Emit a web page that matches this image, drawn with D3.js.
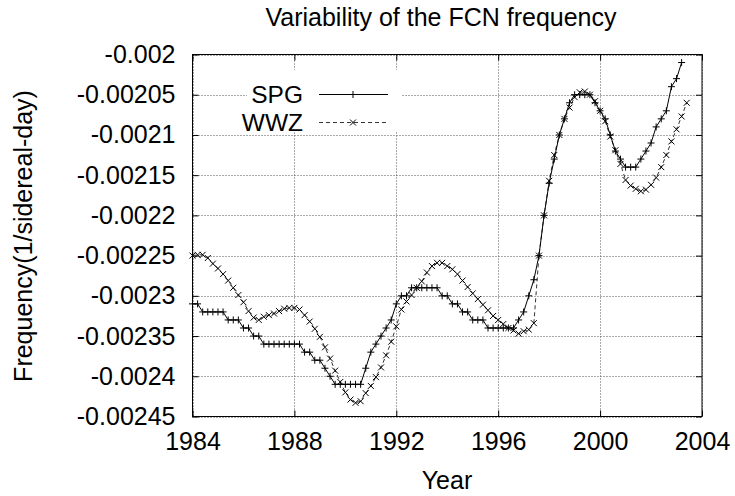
<!DOCTYPE html>
<html>
<head>
<meta charset="utf-8">
<script src="https://cdn.jsdelivr.net/npm/d3@7"></script>
<style>
  body { margin: 0; background: #fff; }
  svg { display: block; font-family: "Liberation Sans", Arial, sans-serif; }
</style>
</head>
<body>
<div id="d1"></div>
<script>
// sample epochs (years)
const years = [
  1984.0, 1984.2, 1984.4, 1984.6, 1984.8,
  1985.0, 1985.2, 1985.4, 1985.6, 1985.8,
  1986.0, 1986.2, 1986.4, 1986.6, 1986.8,
  1987.0, 1987.2, 1987.4, 1987.6, 1987.8,
  1988.0, 1988.2, 1988.4, 1988.6, 1988.8,
  1989.0, 1989.2, 1989.4, 1989.6, 1989.8,
  1990.0, 1990.2, 1990.4, 1990.6, 1990.8,
  1991.0, 1991.2, 1991.4, 1991.6, 1991.8,
  1992.0, 1992.2, 1992.4, 1992.6, 1992.8,
  1993.0, 1993.2, 1993.4, 1993.6, 1993.8,
  1994.0, 1994.2, 1994.4, 1994.6, 1994.8,
  1995.0, 1995.2, 1995.4, 1995.6, 1995.8,
  1996.0, 1996.2, 1996.4, 1996.6, 1996.8,
  1997.0, 1997.2, 1997.4, 1997.6, 1997.8,
  1998.0, 1998.2, 1998.4, 1998.6, 1998.8,
  1999.0, 1999.2, 1999.4, 1999.6, 1999.8,
  2000.0, 2000.2, 2000.4, 2000.6, 2000.8,
  2001.0, 2001.2, 2001.4, 2001.6, 2001.8,
  2002.0, 2002.2, 2002.4, 2002.6, 2002.8,
  2003.0, 2003.2, 2003.4
];

// SPG frequency (1/sidereal-day)
const spg = [
  -0.00231, -0.00231, -0.00232, -0.00232, -0.00232,
  -0.00232, -0.00232, -0.00233, -0.00233, -0.00233,
  -0.00234, -0.00234, -0.00235, -0.00235, -0.00236,
  -0.00236, -0.00236, -0.00236, -0.00236, -0.00236,
  -0.00236, -0.00236, -0.00237, -0.00237, -0.00238,
  -0.00238, -0.00239, -0.00240, -0.00241, -0.00241,
  -0.00241, -0.00241, -0.00241, -0.00241, -0.00239,
  -0.00237, -0.00236, -0.00235, -0.00234, -0.00233,
  -0.00231, -0.00230, -0.00230, -0.00229, -0.00229,
  -0.00229, -0.00229, -0.00229, -0.00229, -0.00230,
  -0.00230, -0.00231, -0.00231, -0.00232, -0.00232,
  -0.00233, -0.00233, -0.00233, -0.00234, -0.00234,
  -0.00234, -0.00234, -0.00234, -0.00234, -0.00233,
  -0.00232, -0.00230, -0.00228, -0.00225, -0.00220,
  -0.00216, -0.00213, -0.00210, -0.00208, -0.00206,
  -0.00205, -0.00205, -0.00205, -0.00205, -0.00206,
  -0.00207, -0.00208, -0.00210, -0.00212, -0.00213,
  -0.00214, -0.00214, -0.00214, -0.00213, -0.00212,
  -0.00211, -0.00209, -0.00208, -0.00207, -0.00204,
  -0.00203, -0.00201
];

// WWZ frequency (1/sidereal-day)
const wwz = [
  -0.002250, -0.002249, -0.002249, -0.002253, -0.002260,
  -0.002266, -0.002273, -0.002281, -0.002290, -0.002299,
  -0.002308, -0.002319, -0.002327, -0.002330, -0.002326,
  -0.002324, -0.002322, -0.002319, -0.002316, -0.002315,
  -0.002315, -0.002317, -0.002324, -0.002332, -0.002341,
  -0.002351, -0.002364, -0.002378, -0.002393, -0.002407,
  -0.002420, -0.002429, -0.002433, -0.002431, -0.002421,
  -0.002412, -0.002401, -0.002389, -0.002374, -0.002357,
  -0.002338, -0.002317, -0.002307, -0.002299, -0.002290,
  -0.002282, -0.002271, -0.002263, -0.002259, -0.002259,
  -0.002263, -0.002267, -0.002273, -0.002281, -0.002289,
  -0.002297, -0.002304, -0.002311, -0.002318, -0.002325,
  -0.002330, -0.002335, -0.002340, -0.002343, -0.002347,
  -0.002344, -0.002342, -0.002334, -0.002250, -0.002200,
  -0.002157, -0.002125, -0.002100, -0.002080, -0.002066,
  -0.002053, -0.002047, -0.002046, -0.002050, -0.002058,
  -0.002070, -0.002083, -0.002102, -0.002119, -0.002136,
  -0.002156, -0.002163, -0.002167, -0.002170, -0.002168,
  -0.002162, -0.002153, -0.002140, -0.002125, -0.002108,
  -0.002093, -0.002077, -0.002060
];

const xTicks = [1984, 1988, 1992, 1996, 2000, 2004];
const xTickLabels = ["1984", "1988", "1992", "1996", "2000", "2004"];
const yTicks = [-0.00245, -0.0024, -0.00235, -0.0023, -0.00225, -0.0022, -0.00215, -0.0021, -0.00205, -0.002];
const yTickLabels = ["-0.00245", "-0.0024", "-0.00235", "-0.0023", "-0.00225", "-0.0022", "-0.00215", "-0.0021", "-0.00205", "-0.002"];
const seriesNames = ["SPG", "WWZ"];

const width = 735, height = 496;
const margin = { top: 54.5, right: 33, bottom: 79.5, left: 192.5 };
const fontSize = 25;

const x = d3.scaleLinear()
    .domain([1984, 2004])
    .range([margin.left, width - margin.right]);

const y = d3.scaleLinear()
    .domain([-0.00245, -0.002])
    .range([height - margin.bottom, margin.top]);

const line = d3.line()
    .x(d => x(d.x))
    .y(d => y(d.y));

const spgData = spg.map((v, i) => ({ x: years[i], y: v }));
const wwzData = wwz.map((v, i) => ({ x: years[i], y: v }));

const plus = "M-3.5,0H3.5M0,-3.5V3.5";
const cross = "M-3,-3L3,3M-3,3L3,-3";

const svg = d3.select("#d1")
    .append("svg")
    .attr("width", width)
    .attr("height", height)
    .attr("viewBox", [0, 0, width, height]);

// dotted grid
const grid = svg.append("g")
    .attr("stroke", "#555")
    .attr("stroke-width", 1)
    .attr("stroke-dasharray", "1,2");

grid.selectAll("line.gy")
    .data(yTicks)
    .join("line")
    .attr("class", "gy")
    .attr("x1", margin.left)
    .attr("x2", width - margin.right)
    .attr("y1", d => Math.round(y(d)) + 0.5)
    .attr("y2", d => Math.round(y(d)) + 0.5);

grid.selectAll("line.gx")
    .data(xTicks)
    .join("line")
    .attr("class", "gx")
    .attr("x1", d => Math.round(x(d)) + 0.5)
    .attr("x2", d => Math.round(x(d)) + 0.5)
    .attr("y1", margin.top)
    .attr("y2", height - margin.bottom);

// gnuplot-like look: ticks inside, big labels
const restyle = g => g
    .attr("font-size", fontSize)
    .attr("font-family", null)
    .call(g => g.select(".domain").remove())
    .call(g => g.selectAll("text").attr("fill", "#000"));

const yAxis = g => g
    .attr("transform", `translate(${margin.left},0)`)
    .call(d3.axisLeft(y).tickValues(yTicks)
        .tickFormat((d, i) => yTickLabels[i])
        .tickSizeInner(-6).tickSizeOuter(0).tickPadding(17))
    .call(restyle);

const yAxisRight = g => g
    .attr("transform", `translate(${width - margin.right},0)`)
    .call(d3.axisRight(y).tickValues(yTicks).tickFormat("")
        .tickSizeInner(-6).tickSizeOuter(0))
    .call(restyle);

const xAxis = g => g
    .attr("transform", `translate(0,${height - margin.bottom})`)
    .call(d3.axisBottom(x).tickValues(xTicks)
        .tickFormat((d, i) => xTickLabels[i])
        .tickSizeInner(-6).tickSizeOuter(0).tickPadding(16))
    .call(restyle);

const xAxisTop = g => g
    .attr("transform", `translate(0,${margin.top})`)
    .call(d3.axisTop(x).tickValues(xTicks).tickFormat("")
        .tickSizeInner(-6).tickSizeOuter(0))
    .call(restyle);

svg.append("g").call(yAxis);
svg.append("g").call(yAxisRight);
svg.append("g").call(xAxis);
svg.append("g").call(xAxisTop);

// legend background
const legend = svg.append("g");
legend.append("rect")
    .attr("x", 247)
    .attr("y", 70)
    .attr("width", 155)
    .attr("height", 62)
    .attr("fill", "#fff");

// series
svg.append("path")
    .datum(wwzData)
    .attr("fill", "none")
    .attr("stroke", "#333")
    .attr("stroke-width", 1)
    .attr("stroke-dasharray", "4,3")
    .attr("d", line);

svg.append("path")
    .datum(spgData)
    .attr("fill", "none")
    .attr("stroke", "#000")
    .attr("stroke-width", 1)
    .attr("d", line);

svg.append("g")
    .attr("stroke", "#000")
    .attr("stroke-width", 1)
    .attr("fill", "none")
    .selectAll("path")
    .data(wwzData)
    .join("path")
    .attr("transform", d => `translate(${x(d.x)},${y(d.y)})`)
    .attr("d", cross);

svg.append("g")
    .attr("stroke", "#000")
    .attr("stroke-width", 1)
    .attr("fill", "none")
    .selectAll("path")
    .data(spgData)
    .join("path")
    .attr("transform", d => `translate(${x(d.x)},${y(d.y)})`)
    .attr("d", plus);

// legend entries
const keyRows = [
    { name: seriesNames[0], y: 94, dash: null, stroke: "#000", marker: plus },
    { name: seriesNames[1], y: 122, dash: "4,3", stroke: "#333", marker: cross }
];
const key = legend.selectAll("g.key")
    .data(keyRows)
    .join("g")
    .attr("class", "key");
key.append("text")
    .attr("x", 303)
    .attr("y", d => d.y)
    .attr("dy", "0.35em")
    .attr("text-anchor", "end")
    .attr("font-size", 24.5)
    .text(d => d.name);
key.append("line")
    .attr("x1", 319)
    .attr("x2", 388)
    .attr("y1", d => d.y + 0.5)
    .attr("y2", d => d.y + 0.5)
    .attr("stroke", d => d.stroke)
    .attr("stroke-dasharray", d => d.dash);
key.append("path")
    .attr("transform", d => `translate(353,${d.y + 0.5})`)
    .attr("d", d => d.marker)
    .attr("stroke", "#000")
    .attr("fill", "none");

// border
svg.append("rect")
    .attr("x", margin.left)
    .attr("y", margin.top)
    .attr("width", width - margin.left - margin.right)
    .attr("height", height - margin.top - margin.bottom)
    .attr("fill", "none")
    .attr("stroke", "#000")
    .attr("stroke-width", 1);

// titles
svg.append("text")
    .attr("x", 441)
    .attr("y", 26)
    .attr("text-anchor", "middle")
    .attr("font-size", fontSize)
    .text("Variability of the FCN frequency");

svg.append("text")
    .attr("x", 447)
    .attr("y", 489)
    .attr("text-anchor", "middle")
    .attr("font-size", fontSize)
    .text("Year");

svg.append("text")
    .attr("transform", "translate(32,236) rotate(-90)")
    .attr("text-anchor", "middle")
    .attr("font-size", fontSize)
    .text("Frequency(1/sidereal-day)");
</script>
</body>
</html>
